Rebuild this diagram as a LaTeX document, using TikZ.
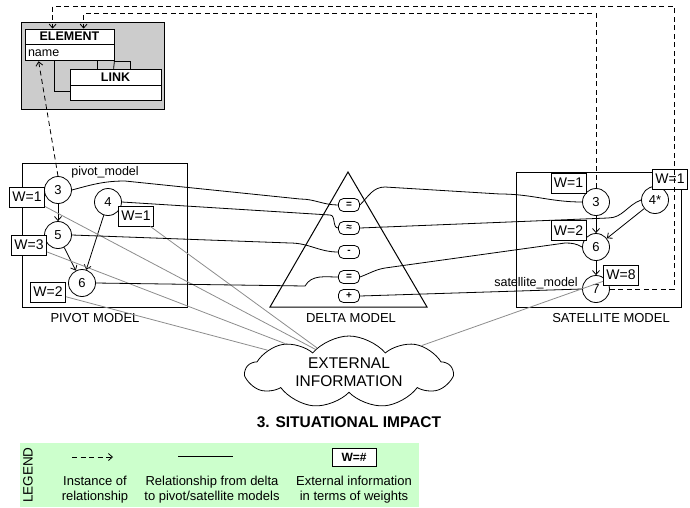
\documentclass[tikz,border=0pt]{standalone}
\usepackage{fontspec}
\setmainfont{Liberation Sans}
\usetikzlibrary{positioning}
\usetikzlibrary{arrows.meta}
\usetikzlibrary{shapes.symbols}
\definecolor{legendgreen}{HTML}{CCFFCC}
\definecolor{metagray}{HTML}{CCCCCC}
\newcommand{\labfont}{\fontsize{13}{15}\selectfont}
\newcommand{\wfont}{\fontsize{14}{16}\selectfont}
\tikzset{>={Straight Barb[length=4pt,width=7pt]}}
\tikzset{mn/.style={circle,draw,minimum size=27pt,inner sep=0pt,font=\labfont}}
\tikzset{wb/.style={draw,fill=white,minimum height=20pt,inner sep=3pt,font=\wfont}}
\tikzset{dn/.style={draw,fill=white,rounded corners=5pt,minimum width=21pt,minimum height=13pt,inner sep=0pt,font=\fontsize{10}{10}\selectfont\bfseries}}
\tikzset{umlbox/.style={draw,fill=white,inner sep=0pt,font=\fontsize{12.5}{14}\selectfont}}
\tikzset{modelbox/.style={draw,line width=1pt}}
\tikzset{rel/.style={line width=0.8pt}}
\tikzset{ext/.style={draw=black!45,line width=0.8pt}}
\tikzset{inst/.style={->,dash pattern=on 5pt off 3.5pt,line width=0.8pt}}
\tikzset{legtext/.style={align=center,font=\fontsize{13}{15}\selectfont}}

\begin{document}
\begin{tikzpicture}[x=1pt,y=-1pt,line width=0.8pt]
    \useasboundingbox (0,0) rectangle (690,507);
    % metamodel
    \node[draw,fill=metagray,minimum width=143pt,minimum height=87pt,inner sep=0pt] (meta) at (92.5,65.5) {};
    \node[umlbox,minimum width=89pt,minimum height=15pt,font=\fontsize{12.5}{14}\selectfont\bfseries] (elem) at (69.5,36.5) {ELEMENT};
    \node[umlbox,below=0pt of elem,minimum height=16pt,text width=83pt,inner xsep=3pt,align=left] (ename) {name};
    \node[umlbox,minimum width=91pt,minimum height=16pt,font=\fontsize{12.5}{14}\selectfont\bfseries] (link) at (115.5,77) {LINK};
    \node[umlbox,below=0pt of link,minimum width=91pt,minimum height=15pt] (lbody) {};
    \draw ([xshift=30pt]ename.south west) |- ([yshift=2pt]lbody.west);
    \draw ([xshift=73pt]ename.south west) -- ([xshift=28pt]link.north west);
    \draw (ename.south east) -- ([xshift=44pt]link.north west);
    \draw (ename.south east) -| ([xshift=61pt]link.north west);

    % pivot model
    \node[modelbox,minimum width=165pt,minimum height=144pt] (pivot) at (104.5,235) {};
    \node[font=\labfont] (pivotlbl) at (95,318) {PIVOT MODEL};
    \node[font=\fontsize{12.5}{14}\selectfont] (pname) at (105,172) {pivot\_model};
    \node[mn] (p3) at (58,190) {3};
    \node[mn] (p4) at (108,202) {4};
    \node[mn] (p5) at (58,235) {5};
    \node[mn] (p6) at (82,283) {6};
    \draw[->] (p3) -- (p5);
    \draw[->] (p5) -- (p6);
    \draw[->] (p4) -- (p6);
    \node[wb] (pw3) at (27,197) {W=1};
    \node[wb] (pw4) at (136,216) {W=1};
    \node[wb] (pw5) at (29,245) {W=3};
    \node[wb] (pw6) at (48,292) {W=2};

    % delta model
    \draw[line width=1pt] (270,307) -- (348,172) -- (427,307) -- cycle;
    \node[font=\labfont] (deltalbl) at (351,318) {DELTA MODEL};
    \node[dn] (d1) at (349,205) {=};
    \node[dn] (d2) at (349,228) {≈};
    \node[dn] (d3) at (349,252) {-};
    \node[dn] (d4) at (349,277) {=};
    \node[dn] (d5) at (349,296) {+};

    % satellite model
    \node[modelbox,minimum width=165pt,minimum height=135pt] (satellite) at (598.5,239.5) {};
    \node[font=\labfont] (satlbl) at (611,318) {SATELLITE MODEL};
    \node[font=\fontsize{12.5}{14}\selectfont] (sname) at (536,283) {satellite\_model};
    \node[mn] (s3) at (596,202) {3};
    \node[mn] (s4) at (655,200) {4*};
    \node[mn] (s6) at (596,247) {6};
    \node[mn] (s7) at (596,289) {7};
    \draw[->] (s3) -- (s6);
    \draw[->] (s6) -- (s7);
    \draw[->] (s4) -- (s6);

    % external information
    \node[cloud,draw,cloud puffs=9,cloud puff arc=100,aspect=3,minimum width=206pt,minimum height=72pt,inner sep=0pt,
          align=center,font=\fontsize{15.5}{18}\selectfont] (cloud) at (349,372) {EXTERNAL\\INFORMATION};
    \node[font=\fontsize{15.5}{18}\selectfont\bfseries] (title) at (349,422) {3. SITUATIONAL IMPACT};

    % weights to external information
    \draw[ext] (pw3) -- (cloud.146);
    \draw[ext] (pw4) -- (cloud.143);
    \draw[ext] (pw5) -- (cloud.156);
    \draw[ext] (pw6) -- (cloud.165);

    % pivot to delta
    \draw[rel] (p3.east) to[out=15,in=180] (125,181) -- (300,199) to[out=0,in=180] (d1.west);
    \draw[rel] (p4.east) -- (330,215) to[out=0,in=180] (d2.west);
    \draw[rel] (p5.east) -- (290,243) to[out=0,in=180] (d3.west);
    \draw[rel] (p6.east) -- (305,286) to[out=60,in=180] (d4.west);

    % delta to satellite
    \draw[rel] (d1.east) to[out=45,in=180] (385,187) -- (500,194) to[out=0,in=180] (s3.west);
    \draw[rel] (d2.east) -- (608,218) to[out=0,in=200] (s4.west);
    \draw[rel] (d4.east) to[out=20,in=190] (385,268) -- (565,243) to[out=0,in=150] (s6.west);
    \draw[rel] (d5.east) -- (s7.west);

    \node[wb] (sw3) at (568.5,183) {W=1};
    \node[wb] (sw4) at (670,179) {W=1};
    \node[wb] (sw6) at (568.5,230.5) {W=2};
    \node[wb] (sw7) at (621,275) {W=8};
    \draw[ext] (sw7) -- (cloud.20);

    % instances of the metamodel
    \draw[inst] (p3.north) -- ([xshift=14pt]ename.south west);
    \draw[inst] (s3.north) |- ([xshift=59pt,yshift=15pt]elem.north west) -- ([xshift=59pt]elem.north west);
    \draw[inst] (s7.east) -| (674,6) -| ([xshift=28pt]elem.north west);

    % legend
    \node[fill=legendgreen,minimum width=399pt,minimum height=64pt,inner sep=0pt] (legend) at (219.5,475) {};
    \node[rotate=90,font=\fontsize{13.5}{15}\selectfont] (legtitle) at (28,475) {LEGEND};
    \coordinate (la1) at (72,457);
    \coordinate (la2) at (113,457);
    \draw[inst] (la1) -- (la2);
    \coordinate (lr1) at (178,456);
    \coordinate (lr2) at (233,456);
    \draw[rel] (lr1) -- (lr2);
    \node[draw,fill=white,minimum width=44pt,minimum height=18pt,inner sep=0pt,font=\fontsize{12}{14}\selectfont\bfseries] (lw) at (354,457) {W=\#};
    \node[legtext] (lt1) at (95,489.5) {Instance of\\relationship};
    \node[legtext] (lt2) at (212,489.5) {Relationship from delta\\to pivot/satellite models};
    \node[legtext] (lt3) at (354,489.5) {External information\\in terms of weights};
\end{tikzpicture}
\end{document}
